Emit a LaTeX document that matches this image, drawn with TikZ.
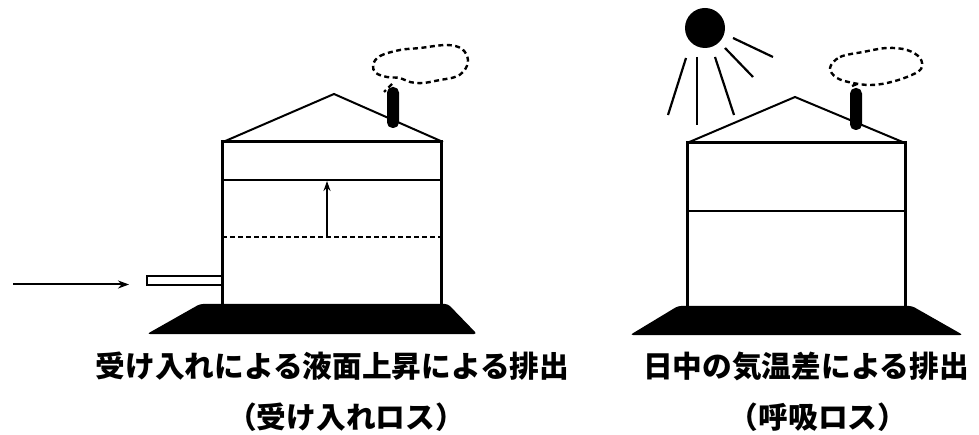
\documentclass[tikz,border=0pt]{standalone}
\usepackage{fontspec}
\newfontfamily\jpfont{Noto Sans CJK JP}
\usetikzlibrary{arrows.meta}
\tikzset{
  wall/.style={line width=3pt},
  roofline/.style={line width=2pt, line join=miter},
  level/.style={line width=2.5pt},
  dashlevel/.style={line width=2pt, dash pattern=on 5pt off 3pt},
  puff/.style={line width=2.4pt, dash pattern=on 5pt off 3.5pt},
  ray/.style={line width=2.2pt},
  stack/.style={fill=black, rounded corners=5.5pt},
  base/.style={fill=black, rounded corners=3pt},
  caption/.style={font=\jpfont\bfseries\fontsize{29.7}{32}\selectfont, inner sep=0pt},
  flow/.style={line width=2pt, -{Stealth[length=11pt,width=8pt]}},
}
\begin{document}
\begin{tikzpicture}[x=1pt,y=-1pt]
\useasboundingbox (0,0) rectangle (979,435);

% ---------- left tank: level rises while receiving ----------
% stack and vapour puff
\draw[puff] plot[smooth cycle, tension=0.6] coordinates {
  (373,65) (380,56) (400,50) (420,48) (447,45) (462,49) (468,60)
  (464,71) (455,77) (440,80) (423,83) (410,82) (400,78) (387,77) (376,73)};
\draw[puff] (392,84) -- (384,92);
% roof
\coordinate (LA) at (334,94);
\coordinate (LL) at (223,142);
\coordinate (LR) at (443,142);
\draw[roofline] (LL) -- (LA) -- (LR);
\fill[stack] (387,87) rectangle (399,128);
% shell
\draw[wall] (222,304) -- (222,142) -- (441,142) -- (441,304);
\draw[level] (222,180) -- (441,180);
\draw[dashlevel] (222,237) -- (441,237);
\coordinate (Lold) at (327,237);
\coordinate (Lnew) at (327,181);
\draw[line width=2pt, -{Stealth[length=10pt,width=7pt]}] (Lold) -- (Lnew);
% footing
\fill[base] (200,304) -- (448,304) -- (477,334) -- (147,334) -- cycle;
% inlet pipe and feed arrow
\draw[line width=1.8pt] (147,276) rectangle (222,285);
\coordinate (feed) at (13,284.5);
\coordinate (pipe) at (129,284.5);
\draw[flow] (feed) -- (pipe);

% ---------- right tank: daytime temperature swing ----------
% sun
\fill (705,28) circle (20);
\draw[ray] (733,38) -- (773,57);
\draw[ray] (725,48) -- (753,77);
\draw[ray] (715,57) -- (734,115);
\draw[ray] (697,57) -- (697,125);
\draw[ray] (686,58) -- (668,115);
% stack and vapour puff
\draw[puff] plot[smooth cycle, tension=0.6] coordinates {
  (830,68) (840,57) (863,52) (887,48) (907,50) (920,58) (921,69)
  (907,77) (887,83) (870,85) (853,83) (837,78)};
\draw[puff] (852,86) -- (857,84);
% roof
\coordinate (RA) at (795,97);
\coordinate (RL) at (687,143);
\coordinate (RR) at (905,143);
\draw[roofline] (RL) -- (RA) -- (RR);
\fill[stack] (850,88) rectangle (862,130);
% shell
\draw[wall] (687,306) -- (687,143) -- (905,143) -- (905,306);
\draw[level] (687,211) -- (905,211);
% footing
\fill[base] (678,306) -- (912,306) -- (963,335) -- (630,335) -- cycle;

% ---------- captions ----------
\node[caption] (capL1) at (332.5,366) {受け入れによる液面上昇による排出};
\node[caption] (capL2) at (346,417) {（受け入れロス）};
\node[caption] (capR1) at (806,366) {日中の気温差による排出};
\node[caption] (capR2) at (818,417) {（呼吸ロス）};
\end{tikzpicture}
\end{document}
